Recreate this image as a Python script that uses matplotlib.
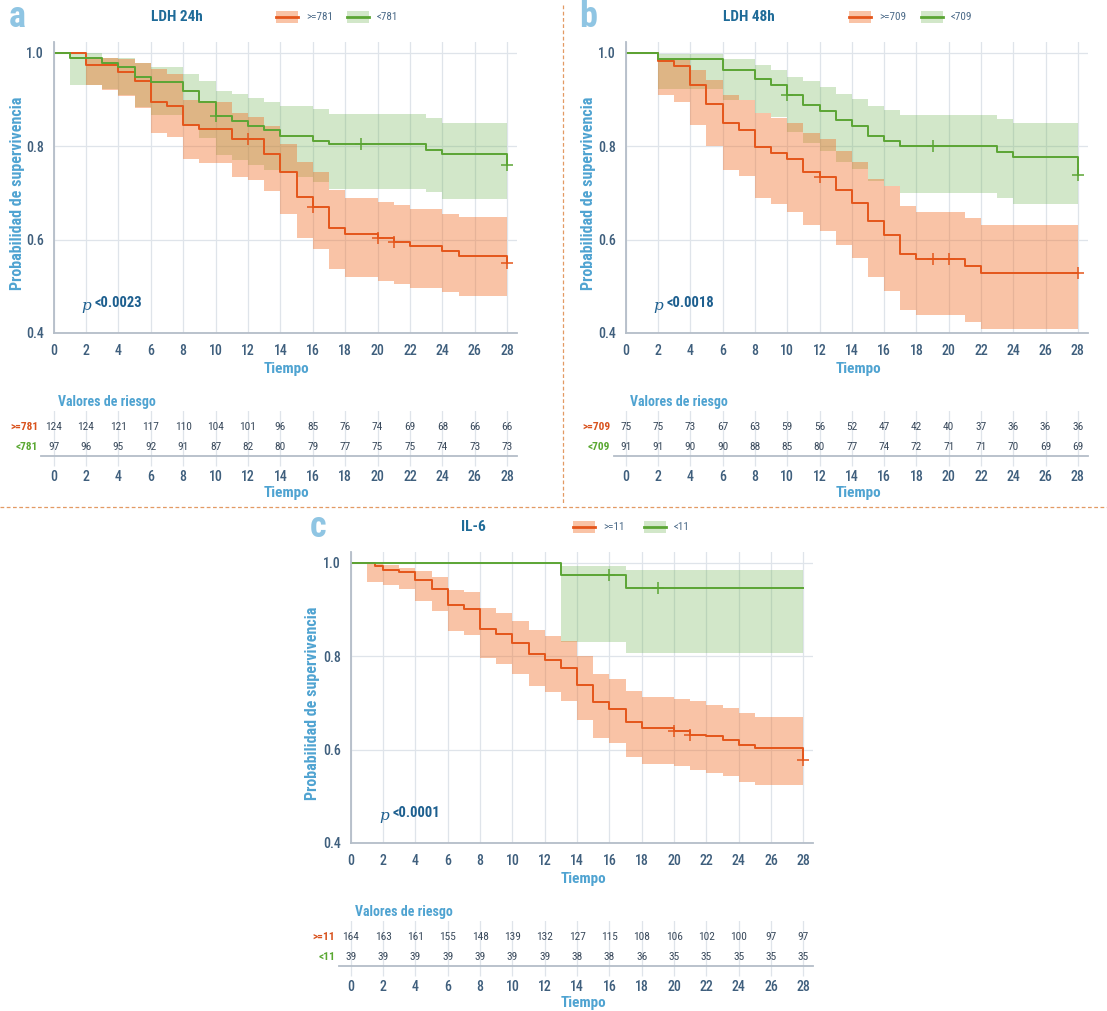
import matplotlib
matplotlib.use('Agg')
import matplotlib.pyplot as plt
from matplotlib import font_manager as fm
from matplotlib.font_manager import FontProperties
from matplotlib.patches import Rectangle
from matplotlib.lines import Line2D

# the reference uses a condensed face: look for one installed, with a bold cut
_COND = ('condensed', 'semi-condensed', 'extra-condensed', 'ultra-condensed')


def _w(f):
    return f.weight if isinstance(f.weight, int) else fm.weight_dict.get(f.weight, 400)


def _rank(f):
    for i, key in enumerate(['Roboto', 'Noto Sans', 'Open Sans', 'DejaVu Sans', 'Liberation']):
        if key in f.name:
            return i
    return 9


def pick_font(wmin, wmax):
    cands = [f for f in fm.fontManager.ttflist
             if ('Condensed' in f.name or 'Narrow' in f.name or f.stretch in _COND)
             and f.style == 'normal' and wmin <= _w(f) <= wmax
             and not any(k in f.name for k in ('Mono', 'Serif', 'CJK'))]
    cands.sort(key=lambda f: (_rank(f), abs(_w(f) - (wmin + wmax) / 2)))
    return cands[0].fname if cands else None


_bold_path = pick_font(600, 800)
_reg_path = pick_font(400, 500)
_med_path = pick_font(500, 600) or _reg_path


def fp(kind, size):
    path = {'bold': _bold_path, 'reg': _reg_path, 'med': _med_path}[kind]
    if path:
        return FontProperties(fname=path, size=size)
    return FontProperties(family='DejaVu Sans', weight='bold' if kind == 'bold' else 'normal',
                          size=size * 0.8)


# ---- data ----
days = [0, 1, 2, 3, 4, 5, 6, 7, 8, 9, 10, 11, 12, 13, 14, 15, 16, 17, 18, 19, 20,
        21, 22, 23, 24, 25, 26, 27, 28]
risk_days = [0, 2, 4, 6, 8, 10, 12, 14, 16, 18, 20, 22, 24, 26, 28]

# panel a: LDH 24h
a_high_s = [1.0, 1.0, 0.975, 0.975, 0.959, 0.941, 0.894, 0.887, 0.845, 0.838, 0.838, 0.815, 0.815, 0.784, 0.746,
            0.692, 0.669, 0.626, 0.612, 0.612, 0.604, 0.594, 0.586, 0.586, 0.576, 0.566, 0.566, 0.566, 0.551]
a_high_cu = [1.0, 1.0, 0.99, 0.99, 0.988, 0.979, 0.966, 0.956, 0.900, 0.897, 0.895, 0.871, 0.862, 0.843, 0.806,
             0.766, 0.745, 0.707, 0.689, 0.689, 0.681, 0.674, 0.666, 0.666, 0.655, 0.648, 0.648, 0.648, 0.648]
a_high_cl = [1.0, 1.0, 0.931, 0.920, 0.907, 0.882, 0.829, 0.819, 0.772, 0.764, 0.764, 0.735, 0.727, 0.704, 0.655,
             0.604, 0.580, 0.537, 0.521, 0.521, 0.512, 0.504, 0.496, 0.496, 0.487, 0.480, 0.480, 0.480, 0.480]
a_low_s = [1.0, 0.989, 0.989, 0.979, 0.970, 0.949, 0.938, 0.938, 0.918, 0.896, 0.864, 0.855, 0.844, 0.834, 0.823,
           0.823, 0.812, 0.804, 0.804, 0.804, 0.804, 0.804, 0.804, 0.792, 0.783, 0.783, 0.783, 0.783, 0.759]
a_low_cu = [1.0, 1.0, 1.0, 0.99, 0.989, 0.979, 0.969, 0.969, 0.955, 0.941, 0.919, 0.912, 0.904, 0.895, 0.887,
            0.887, 0.880, 0.869, 0.869, 0.869, 0.869, 0.869, 0.869, 0.861, 0.850, 0.850, 0.850, 0.850, 0.850]
a_low_cl = [1.0, 0.931, 0.931, 0.922, 0.910, 0.885, 0.868, 0.868, 0.843, 0.818, 0.782, 0.771, 0.760, 0.750, 0.745,
            0.735, 0.723, 0.709, 0.709, 0.709, 0.709, 0.709, 0.709, 0.703, 0.687, 0.687, 0.687, 0.687, 0.687]
a_high_cens_t = [12, 16, 20, 21, 28]
a_high_cens_s = [0.815, 0.669, 0.604, 0.594, 0.551]
a_low_cens_t = [10, 19, 28]
a_low_cens_s = [0.864, 0.804, 0.759]
a_risk_high = [124, 124, 121, 117, 110, 104, 101, 96, 85, 76, 74, 69, 68, 66, 66]
a_risk_low = [97, 96, 95, 92, 91, 87, 82, 80, 79, 77, 75, 75, 74, 73, 73]

# panel b: LDH 48h
b_high_s = [1.0, 1.0, 0.983, 0.972, 0.931, 0.891, 0.851, 0.836, 0.799, 0.786, 0.772, 0.745, 0.734, 0.706, 0.679,
            0.640, 0.610, 0.570, 0.558, 0.558, 0.558, 0.543, 0.529, 0.529, 0.529, 0.529, 0.529, 0.529, 0.529]
b_high_cu = [1.0, 1.0, 0.987, 0.987, 0.963, 0.943, 0.911, 0.900, 0.871, 0.861, 0.849, 0.829, 0.816, 0.791, 0.766,
             0.731, 0.714, 0.673, 0.660, 0.660, 0.660, 0.647, 0.631, 0.631, 0.631, 0.631, 0.631, 0.631, 0.631]
b_high_cl = [1.0, 1.0, 0.909, 0.896, 0.846, 0.800, 0.750, 0.737, 0.690, 0.677, 0.660, 0.632, 0.619, 0.589, 0.561,
             0.520, 0.491, 0.450, 0.439, 0.439, 0.439, 0.424, 0.409, 0.409, 0.409, 0.409, 0.409, 0.409, 0.409]
b_low_s = [1.0, 1.0, 0.988, 0.988, 0.988, 0.988, 0.964, 0.964, 0.945, 0.931, 0.911, 0.889, 0.876, 0.856, 0.843,
           0.823, 0.811, 0.800, 0.800, 0.800, 0.800, 0.800, 0.800, 0.788, 0.777, 0.777, 0.777, 0.777, 0.739]
b_low_cu = [1.0, 1.0, 0.997, 0.997, 0.997, 0.997, 0.987, 0.987, 0.975, 0.964, 0.949, 0.939, 0.927, 0.913, 0.902,
            0.886, 0.877, 0.867, 0.867, 0.867, 0.867, 0.867, 0.867, 0.859, 0.849, 0.849, 0.849, 0.849, 0.849]
b_low_cl = [1.0, 1.0, 0.923, 0.923, 0.923, 0.923, 0.900, 0.900, 0.872, 0.862, 0.831, 0.807, 0.790, 0.767, 0.751,
            0.726, 0.714, 0.701, 0.701, 0.701, 0.701, 0.701, 0.701, 0.690, 0.676, 0.676, 0.676, 0.676, 0.676]
b_high_cens_t = [12, 19, 20, 28]
b_high_cens_s = [0.734, 0.558, 0.558, 0.529]
b_low_cens_t = [10, 19, 28]
b_low_cens_s = [0.911, 0.800, 0.739]
b_risk_high = [75, 75, 73, 67, 63, 59, 56, 52, 47, 42, 40, 37, 36, 36, 36]
b_risk_low = [91, 91, 90, 90, 88, 85, 80, 77, 74, 72, 71, 71, 70, 69, 69]

# panel c: IL-6
c_high_t = [0, 1, 1.5, 2, 3, 4, 5, 6, 7, 8, 9, 10, 11, 12, 13, 14, 15, 16, 17, 18, 19, 20,
            21, 22, 23, 24, 25, 26, 27, 28]
c_high_s = [1.0, 1.0, 0.994, 0.986, 0.980, 0.963, 0.944, 0.909, 0.902, 0.859, 0.848, 0.829, 0.805, 0.792, 0.775,
            0.738, 0.702, 0.688, 0.659, 0.646, 0.646, 0.641, 0.632, 0.629, 0.621, 0.609, 0.603, 0.603, 0.603, 0.577]
c_high_cu = [1.0, 0.998, 0.998, 0.996, 0.990, 0.982, 0.969, 0.943, 0.938, 0.904, 0.893, 0.876, 0.857, 0.844, 0.832,
             0.800, 0.762, 0.752, 0.725, 0.712, 0.712, 0.709, 0.704, 0.696, 0.689, 0.679, 0.671, 0.671, 0.671, 0.671]
c_high_cl = [1.0, 0.959, 0.959, 0.952, 0.944, 0.919, 0.898, 0.855, 0.846, 0.796, 0.784, 0.762, 0.737, 0.724, 0.704,
             0.664, 0.626, 0.614, 0.584, 0.569, 0.569, 0.564, 0.557, 0.550, 0.543, 0.530, 0.525, 0.525, 0.525, 0.525]
c_low_s = [1.0, 1.0, 1.0, 1.0, 1.0, 1.0, 1.0, 1.0, 1.0, 1.0, 1.0, 1.0, 1.0, 0.974, 0.974,
           0.974, 0.974, 0.947, 0.947, 0.947, 0.947, 0.947, 0.947, 0.947, 0.947, 0.947, 0.947, 0.947, 0.947]
c_low_cu = [1.0, 1.0, 1.0, 1.0, 1.0, 1.0, 1.0, 1.0, 1.0, 1.0, 1.0, 1.0, 1.0, 0.993, 0.993,
            0.993, 0.993, 0.986, 0.986, 0.986, 0.986, 0.986, 0.986, 0.986, 0.986, 0.986, 0.986, 0.986, 0.986]
c_low_cl = [1.0, 1.0, 1.0, 1.0, 1.0, 1.0, 1.0, 1.0, 1.0, 1.0, 1.0, 1.0, 1.0, 0.831, 0.831,
            0.831, 0.831, 0.807, 0.807, 0.807, 0.807, 0.807, 0.807, 0.807, 0.807, 0.807, 0.807, 0.807, 0.807]
c_high_cens_t = [20, 21, 28]
c_high_cens_s = [0.641, 0.632, 0.577]
c_low_cens_t = [16, 19]
c_low_cens_s = [0.974, 0.947]
c_risk_high = [164, 163, 161, 155, 148, 139, 132, 127, 115, 108, 106, 102, 100, 97, 97]
c_risk_low = [39, 39, 39, 39, 39, 39, 39, 38, 38, 36, 35, 35, 35, 35, 35]

# ---- style ----
W, H = 1107, 1011
ORANGE = '#e4561b'
ORANGE_FILL = '#f26b21'
GREEN = '#5ba534'
GREEN_FILL = '#6ab04c'
GRID = '#dfe4ea'
SPINE = '#b4bdc8'
TICK_TXT = '#3f5f7d'
TITLE = '#1f6b98'
LIGHTBLUE = '#4fa3d1'
LETTER = '#8fc5e3'
NUM = '#3a4a5c'

fig = plt.figure(figsize=(W / 100, H / 100), dpi=100)


def rect(l, t, r, b):
    return [l / W, 1 - b / H, (r - l) / W, (b - t) / H]


def ftext(x, y, s, kind='bold', size=10, **kw):
    return fig.text(x / W, 1 - y / H, s, fontproperties=fp(kind, size), **kw)


def style_ticks(ax, size):
    for lab in ax.get_xticklabels() + ax.get_yticklabels():
        lab.set_fontproperties(fp('med', size))


def km_panel(x0, top, day_px, title, letter, lab_high, lab_low, pval,
             hi, lo, risk_high, risk_low, letter_x, title_x, leg_x, pval_x, ylab_x):
    y04 = top + 291
    right = x0 + 28.6 * day_px
    ax = fig.add_axes(rect(x0, top, right, y04))
    ax.set_xlim(0, 28.6)
    ax.set_ylim(0.4, 1.0 + 11 / 466.7)
    ax.grid(True, color=GRID, lw=0.9)
    ax.set_axisbelow(True)
    for sp in ['top', 'right']:
        ax.spines[sp].set_visible(False)
    for sp in ['left', 'bottom']:
        ax.spines[sp].set_color(SPINE)
        ax.spines[sp].set_linewidth(1.3)
    ax.set_xticks(risk_days)
    ax.set_yticks([0.4, 0.6, 0.8, 1.0])
    ax.set_yticklabels(['0.4', '0.6', '0.8', '1.0'])
    ax.tick_params(axis='x', length=0, pad=8, labelcolor=TICK_TXT)
    ax.tick_params(axis='y', length=0, pad=7, labelcolor=TICK_TXT)
    style_ticks(ax, 10)

    # bands: green first, orange on top
    ax.fill_between(lo[0], lo[2], lo[3], step='post', color=GREEN_FILL, alpha=0.3, lw=0)
    ax.fill_between(hi[0], hi[2], hi[3], step='post', color=ORANGE_FILL, alpha=0.4, lw=0)
    ax.step(hi[0], hi[1], where='post', color=ORANGE, lw=1.4)
    ax.step(lo[0], lo[1], where='post', color=GREEN, lw=1.4)
    ax.plot(hi[4], hi[5], ls='none', marker='+', ms=8, mew=1.1, color=ORANGE)
    ax.plot(lo[4], lo[5], ls='none', marker='+', ms=8, mew=1.1, color=GREEN)

    # header
    ftext(letter_x, top - 25, letter, 'bold', 26, color=LETTER, ha='center', va='center')
    ftext(title_x, top - 25, title, 'bold', 11, color=TITLE, ha='center', va='center')
    for i, (lab, lc, fc, al) in enumerate([(lab_high, ORANGE, ORANGE_FILL, 0.4),
                                            (lab_low, GREEN, GREEN_FILL, 0.3)]):
        lx = leg_x[i]
        fig.add_artist(Rectangle((lx / W, 1 - (top - 19) / H), 22 / W, 12 / H,
                                 transform=fig.transFigure, color=fc, alpha=al, lw=0))
        fig.add_artist(Line2D([lx / W, (lx + 22) / W], [1 - (top - 25) / H] * 2,
                              transform=fig.transFigure, color=lc, lw=2))
        ftext(lx + 30, top - 25, lab, 'reg', 8, color='#4b6a88', ha='left', va='center')

    # p-value
    fig.text(pval_x / W, 1 - (y04 - 27) / H, 'p', fontsize=11, family='DejaVu Serif',
             style='italic', color='#1d5f8f', ha='center', va='center')
    ftext(pval_x + 9, y04 - 30, pval, 'bold', 10.5, color='#1d5f8f', ha='left', va='center')

    # axis labels
    ftext(ylab_x, top + 151, 'Probabilidad de supervivencia', 'bold', 11.5, rotation=90,
          color=LIGHTBLUE, ha='center', va='center')
    xmid = x0 + 14.4 * day_px
    ftext(xmid, y04 + 36, 'Tiempo', 'bold', 11, color=LIGHTBLUE, ha='center', va='center')

    # risk table
    t_top, t_bot = y04 + 78, y04 + 123
    ta = fig.add_axes(rect(x0 - 0.75 * day_px, t_top, right, t_bot))
    ta.set_xlim(-0.75, 28.6)
    ta.set_ylim(0, 1)
    for sp in ['top', 'right', 'left']:
        ta.spines[sp].set_visible(False)
    ta.spines['bottom'].set_color(SPINE)
    ta.spines['bottom'].set_linewidth(1.3)
    ta.set_yticks([])
    ta.set_xticks(risk_days)
    ta.grid(True, axis='x', color=GRID, lw=0.9)
    ta.set_axisbelow(True)
    ta.tick_params(axis='x', length=7, width=0.9, color=GRID, pad=3, labelcolor=TICK_TXT)
    style_ticks(ta, 10)
    for d, n1, n2 in zip(risk_days, risk_high, risk_low):
        ta.text(d, 0.64, str(n1), fontproperties=fp('reg', 8.2), color=NUM, ha='center', va='center')
        ta.text(d, 0.20, str(n2), fontproperties=fp('reg', 8.2), color=NUM, ha='center', va='center')
    ta.text(-0.95, 0.64, lab_high, fontproperties=fp('bold', 8.2), color='#d9531e',
            ha='right', va='center', clip_on=False)
    ta.text(-0.95, 0.20, lab_low, fontproperties=fp('bold', 8.2), color='#5aa832',
            ha='right', va='center', clip_on=False)
    ftext(x0 + 4, t_top - 9, 'Valores de riesgo', 'bold', 10, color=LIGHTBLUE,
          ha='left', va='center')
    ftext(xmid, t_bot + 37, 'Tiempo', 'bold', 11, color=LIGHTBLUE, ha='center', va='center')


km_panel(53.6, 42, 16.2, 'LDH 24h', 'a', '>=781', '<781', '<0.0023',
         (days, a_high_s, a_high_cl, a_high_cu, a_high_cens_t, a_high_cens_s),
         (days, a_low_s, a_low_cl, a_low_cu, a_low_cens_t, a_low_cens_s),
         a_risk_high, a_risk_low, 17, 177, (276, 347), 86, 18)
km_panel(625.7, 42, 16.15, 'LDH 48h', 'b', '>=709', '<709', '<0.0018',
         (days, b_high_s, b_high_cl, b_high_cu, b_high_cens_t, b_high_cens_s),
         (days, b_low_s, b_low_cl, b_low_cu, b_low_cens_t, b_low_cens_s),
         b_risk_high, b_risk_low, 588, 749, (849, 921), 658, 589)
km_panel(350.7, 552, 16.17, 'IL-6', 'c', '>=11', '<11', '<0.0001',
         (c_high_t, c_high_s, c_high_cl, c_high_cu, c_high_cens_t, c_high_cens_s),
         (days, c_low_s, c_low_cl, c_low_cu, c_low_cens_t, c_low_cens_s),
         c_risk_high, c_risk_low, 318, 473, (573, 644), 384, 313)

# dashed separators
fig.add_artist(Line2D([563 / W, 563 / W], [1 - 5 / H, 1 - 505 / H], transform=fig.transFigure,
                      color='#e39a64', lw=0.9, ls=(0, (3, 2))))
fig.add_artist(Line2D([0, 1], [1 - 507 / H, 1 - 507 / H], transform=fig.transFigure,
                      color='#e39a64', lw=0.9, ls=(0, (3, 2))))

fig.savefig('out.png', dpi=100)
